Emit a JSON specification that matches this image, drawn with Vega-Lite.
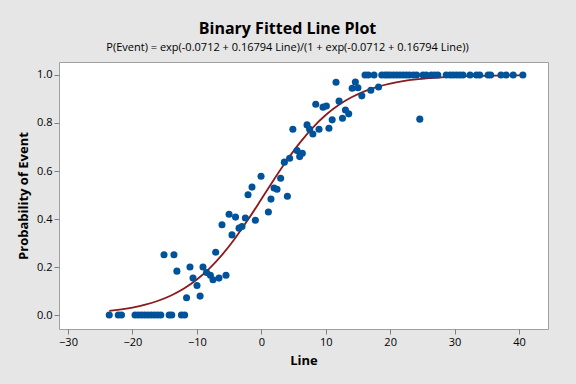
{
  "$schema": "https://vega.github.io/schema/vega-lite/v6.json",
  "width": 489,
  "height": 267,
  "autosize": "none",
  "padding": {"left": 59, "top": 62, "right": 28, "bottom": 55},
  "background": "#e6e6e6",
  "title": {
    "text": "Binary Fitted Line Plot",
    "subtitle": "P(Event) = exp(-0.0712 + 0.16794 Line)/(1 + exp(-0.0712 + 0.16794 Line))",
    "font": "Open Sans",
    "fontSize": 16,
    "fontWeight": "bold",
    "color": "#000000",
    "subtitleFont": "Open Sans",
    "subtitleFontSize": 11,
    "subtitleColor": "#000000",
    "subtitlePadding": 5,
    "offset": 9,
    "anchor": "middle",
    "dx": -16
  },
  "config": {
    "view": {"fill": "#ffffff", "stroke": "#a0a0a0", "strokeWidth": 1},
    "axis": {
      "grid": false,
      "domain": false,
      "tickColor": "#808080",
      "tickSize": 5,
      "labelFont": "Open Sans",
      "labelFontSize": 11,
      "labelColor": "#000000",
      "titleFont": "Open Sans",
      "titleFontSize": 13,
      "titleFontWeight": "bold",
      "titleColor": "#000000"
    }
  },
  "datasets": {
    "points": [
      {"Line": -23.6, "P": 0}, {"Line": -22.2, "P": 0}, {"Line": -21.7, "P": 0},
      {"Line": -19.6, "P": 0}, {"Line": -19.1, "P": 0}, {"Line": -18.6, "P": 0},
      {"Line": -18.1, "P": 0}, {"Line": -17.6, "P": 0}, {"Line": -17.1, "P": 0},
      {"Line": -16.6, "P": 0}, {"Line": -16.1, "P": 0}, {"Line": -15.6, "P": 0},
      {"Line": -14.3, "P": 0}, {"Line": -13.9, "P": 0}, {"Line": -12.4, "P": 0},
      {"Line": -11.9, "P": 0},
      {"Line": -15.1, "P": 0.251}, {"Line": -13.56, "P": 0.251}, {"Line": -13.1, "P": 0.183},
      {"Line": -11.07, "P": 0.2}, {"Line": -10.6, "P": 0.154}, {"Line": -9.98, "P": 0.123},
      {"Line": -11.6, "P": 0.072}, {"Line": -9.5, "P": 0.079}, {"Line": -9.05, "P": 0.2},
      {"Line": -8.5, "P": 0.177}, {"Line": -7.9, "P": 0.166}, {"Line": -7.5, "P": 0.147},
      {"Line": -6.57, "P": 0.154}, {"Line": -5.48, "P": 0.166}, {"Line": -7.08, "P": 0.262},
      {"Line": -6.1, "P": 0.376}, {"Line": -4.55, "P": 0.334}, {"Line": -5.0, "P": 0.42},
      {"Line": -4.0, "P": 0.408}, {"Line": -3.45, "P": 0.362}, {"Line": -3.0, "P": 0.369},
      {"Line": -2.47, "P": 0.404}, {"Line": -0.92, "P": 0.395}, {"Line": -2.06, "P": 0.501},
      {"Line": -1.44, "P": 0.533}, {"Line": -0.04, "P": 0.578}, {"Line": 1.1, "P": 0.429},
      {"Line": 1.5, "P": 0.483}, {"Line": 1.98, "P": 0.529}, {"Line": 2.44, "P": 0.524},
      {"Line": 3.0, "P": 0.57}, {"Line": 4.05, "P": 0.495}, {"Line": 3.58, "P": 0.637},
      {"Line": 4.4, "P": 0.653}, {"Line": 4.9, "P": 0.774}, {"Line": 5.55, "P": 0.685},
      {"Line": 5.96, "P": 0.66}, {"Line": 6.37, "P": 0.674}, {"Line": 7.1, "P": 0.792},
      {"Line": 7.5, "P": 0.774}, {"Line": 8.0, "P": 0.754}, {"Line": 8.96, "P": 0.774},
      {"Line": 8.45, "P": 0.878}, {"Line": 9.58, "P": 0.866}, {"Line": 10.1, "P": 0.871},
      {"Line": 10.5, "P": 0.778}, {"Line": 11.0, "P": 0.813}, {"Line": 11.6, "P": 0.97},
      {"Line": 12.07, "P": 0.891}, {"Line": 12.6, "P": 0.82}, {"Line": 13.06, "P": 0.854},
      {"Line": 13.57, "P": 0.838}, {"Line": 14.1, "P": 0.945}, {"Line": 14.6, "P": 0.971},
      {"Line": 15.0, "P": 0.947}, {"Line": 15.6, "P": 0.913}, {"Line": 17.0, "P": 0.936},
      {"Line": 18.2, "P": 0.95}, {"Line": 24.6, "P": 0.816},
      {"Line": 16.1, "P": 1}, {"Line": 16.6, "P": 1}, {"Line": 17.5, "P": 1},
      {"Line": 18.7, "P": 1}, {"Line": 19.2, "P": 1}, {"Line": 19.6, "P": 1},
      {"Line": 20.0, "P": 1}, {"Line": 20.5, "P": 1}, {"Line": 21.0, "P": 1},
      {"Line": 21.5, "P": 1}, {"Line": 22.0, "P": 1}, {"Line": 22.5, "P": 1},
      {"Line": 23.0, "P": 1}, {"Line": 23.6, "P": 1}, {"Line": 24.1, "P": 1},
      {"Line": 25.1, "P": 1}, {"Line": 25.6, "P": 1}, {"Line": 26.4, "P": 1},
      {"Line": 26.9, "P": 1}, {"Line": 27.4, "P": 1}, {"Line": 28.7, "P": 1},
      {"Line": 29.3, "P": 1}, {"Line": 29.8, "P": 1}, {"Line": 30.3, "P": 1},
      {"Line": 30.8, "P": 1}, {"Line": 31.3, "P": 1}, {"Line": 32.4, "P": 1},
      {"Line": 33.4, "P": 1}, {"Line": 33.9, "P": 1}, {"Line": 35.2, "P": 1},
      {"Line": 35.6, "P": 1}, {"Line": 37.2, "P": 1}, {"Line": 38.0, "P": 1},
      {"Line": 39.1, "P": 1}, {"Line": 40.6, "P": 1}
    ],
    "curve": [
      {"Line": -23.6, "P": 0.01738}, {"Line": -22, "P": 0.02262}, {"Line": -20, "P": 0.03138},
      {"Line": -18, "P": 0.04334}, {"Line": -16, "P": 0.05963}, {"Line": -14, "P": 0.08149},
      {"Line": -12, "P": 0.11042}, {"Line": -10, "P": 0.14797}, {"Line": -8, "P": 0.19549},
      {"Line": -6, "P": 0.25372}, {"Line": -4, "P": 0.32235}, {"Line": -2, "P": 0.39962},
      {"Line": 0, "P": 0.48221}, {"Line": 2, "P": 0.56578}, {"Line": 4, "P": 0.64577},
      {"Line": 6, "P": 0.71838}, {"Line": 8, "P": 0.78114}, {"Line": 10, "P": 0.83316},
      {"Line": 12, "P": 0.8748}, {"Line": 14, "P": 0.90721}, {"Line": 16, "P": 0.93188},
      {"Line": 18, "P": 0.95035}, {"Line": 20, "P": 0.96401}, {"Line": 22, "P": 0.97401},
      {"Line": 24, "P": 0.98129}, {"Line": 26, "P": 0.98655}, {"Line": 28, "P": 0.99035},
      {"Line": 30, "P": 0.99308}, {"Line": 32, "P": 0.99505}, {"Line": 34, "P": 0.99646},
      {"Line": 36, "P": 0.99746}, {"Line": 38, "P": 0.99819}, {"Line": 40, "P": 0.9987},
      {"Line": 40.6, "P": 0.99883}
    ]
  },
  "encoding": {
    "x": {
      "field": "Line", "type": "quantitative",
      "scale": {"domain": [-31.4, 44.5], "nice": false, "zero": false},
      "axis": {"values": [-30, -20, -10, 0, 10, 20, 30, 40], "title": "Line", "labelPadding": 2, "titlePadding": 7}
    },
    "y": {
      "field": "P", "type": "quantitative",
      "scale": {"domain": [-0.058, 1.054], "nice": false, "zero": false},
      "axis": {"values": [0, 0.2, 0.4, 0.6, 0.8, 1.0], "format": ".1f", "title": "Probability of Event", "labelPadding": 2, "titlePadding": 6}
    }
  },
  "layer": [
    {
      "data": {"name": "curve"},
      "mark": {"type": "line", "color": "#8b1a1a", "strokeWidth": 1.8, "interpolate": "monotone"}
    },
    {
      "data": {"name": "points"},
      "mark": {"type": "point", "shape": "circle", "filled": true, "size": 50, "opacity": 1, "color": "#00529b"}
    }
  ]
}
